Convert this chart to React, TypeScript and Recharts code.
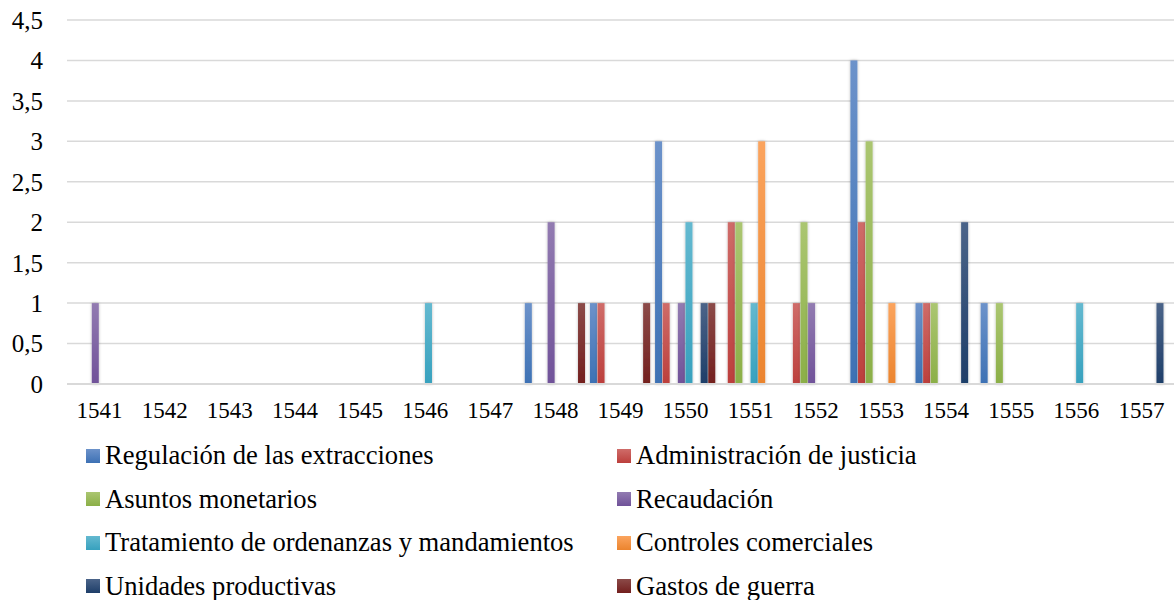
import React from 'react';
import { BarChart, Bar, XAxis, YAxis, CartesianGrid } from 'recharts';

const years = ['1541','1542','1543','1544','1545','1546','1547','1548','1549','1550','1551','1552','1553','1554','1555','1556','1557'];
const regulacion = [0,0,0,0,0,0,0,1,1,3,0,0,4,1,1,0,0];
const administracion = [0,0,0,0,0,0,0,0,1,1,2,1,2,1,0,0,0];
const monetarios = [0,0,0,0,0,0,0,0,0,0,2,2,3,1,1,0,0];
const recaudacion = [1,0,0,0,0,0,0,2,0,1,0,1,0,0,0,0,0];
const tratamiento = [0,0,0,0,0,1,0,0,0,2,1,0,0,0,0,1,0];
const controles = [0,0,0,0,0,0,0,0,0,0,3,0,1,0,0,0,0];
const unidades = [0,0,0,0,0,0,0,0,0,1,0,0,0,2,0,0,1];
const gastos = [0,0,0,0,0,0,0,1,1,1,0,0,0,0,0,0,0];
const yTicks = [0,0.5,1,1.5,2,2.5,3,3.5,4,4.5];

const seriesNames = [
  'Regulación de las extracciones',
  'Administración de justicia',
  'Asuntos monetarios',
  'Recaudación',
  'Tratamiento de ordenanzas y mandamientos',
  'Controles comerciales',
  'Unidades productivas',
  'Gastos de guerra',
];
const seriesValues = [regulacion, administracion, monetarios, recaudacion, tratamiento, controles, unidades, gastos];
const seriesKeys = ['s0','s1','s2','s3','s4','s5','s6','s7'];
const colorsTop = ['#6c92ca','#cf6c69','#abc671','#927bb1','#64b9d0','#fba45e','#4b6489','#8b4a48'];
const colorsBottom = ['#3d71b4','#bc3f3c','#8baf47','#705299','#37a1be','#eb842e','#1e3e69','#731f1e'];

const data = years.map((y, i) => {
  const row: any = { year: y };
  seriesKeys.forEach((k, j) => { row[k] = seriesValues[j][i]; });
  return row;
});

const FONT = "'Liberation Serif', Tinos, 'Times New Roman', Times, serif";

const BarShape = (props: any) => {
  const { x, y, width, height, fill } = props;
  if (!height || height <= 0) return <g />;
  return <rect x={x} y={y} width={width} height={height} fill={fill} filter="url(#barShadow)" />;
};

export default function App() {
  return (
    <div style={{ position: 'absolute', left: 0, top: 0, width: 1175, height: 600, background: '#fff', fontFamily: FONT }}>
      <BarChart
        width={1175}
        height={440}
        data={data}
        margin={{ top: 20, right: 1, left: 0, bottom: 0 }}
        barSize={7}
        barGap={0.6}
        style={{ fontFamily: FONT }}
      >
        <defs>
          <filter id="barShadow" x="-80%" y="-10%" width="260%" height="120%">
            <feDropShadow dx="0" dy="0" stdDeviation="1.8" floodColor="#000" floodOpacity="0.28" />
          </filter>
          {seriesKeys.map((k, j) => (
            <linearGradient key={k} id={'grad' + j} x1="0" y1="0" x2="0" y2="1">
              <stop offset="0%" stopColor={colorsTop[j]} />
              <stop offset="100%" stopColor={colorsBottom[j]} />
            </linearGradient>
          ))}
        </defs>
        <CartesianGrid vertical={false} stroke="#d9d9d9" strokeWidth={1.5} />
        <XAxis
          dataKey="year"
          tickLine={false}
          tickSize={0}
          tickMargin={18}
          height={56}
          axisLine={{ stroke: '#d9d9d9', strokeWidth: 2 }}
          tick={{ fill: '#000', fontSize: 23, fontFamily: FONT }}
          interval={0}
        />
        <YAxis
          width={67}
          domain={[0, 4.5]}
          ticks={yTicks}
          axisLine={false}
          tickLine={false}
          tickSize={0}
          tickMargin={24}
          tick={{ fill: '#000', fontSize: 25, fontFamily: FONT }}
          tickFormatter={(v: number) => String(v).replace('.', ',')}
          interval={0}
        />
        {seriesKeys.map((k, j) => (
          <Bar key={k} dataKey={k} name={seriesNames[j]} fill={'url(#grad' + j + ')'} isAnimationActive={false} shape={BarShape} />
        ))}
      </BarChart>
      <div style={{ position: 'absolute', left: 0, top: 434, width: 1175, fontFamily: FONT, fontSize: 26.6, color: '#000' }}>
        {[0, 1, 2, 3].map((r) => (
          <div key={r} style={{ position: 'relative', height: 43.5 }}>
            {[0, 1].map((c) => {
              const j = r * 2 + c;
              return (
                <div key={c} style={{ position: 'absolute', left: c === 0 ? 86 : 617, top: 0, height: 43.5, display: 'flex', alignItems: 'center', whiteSpace: 'nowrap' }}>
                  <span style={{ display: 'inline-block', width: 14, height: 14, background: `linear-gradient(${colorsTop[j]}, ${colorsBottom[j]})`, marginRight: 5 }} />
                  <span style={{ lineHeight: 1 }}>{seriesNames[j]}</span>
                </div>
              );
            })}
          </div>
        ))}
      </div>
    </div>
  );
}
